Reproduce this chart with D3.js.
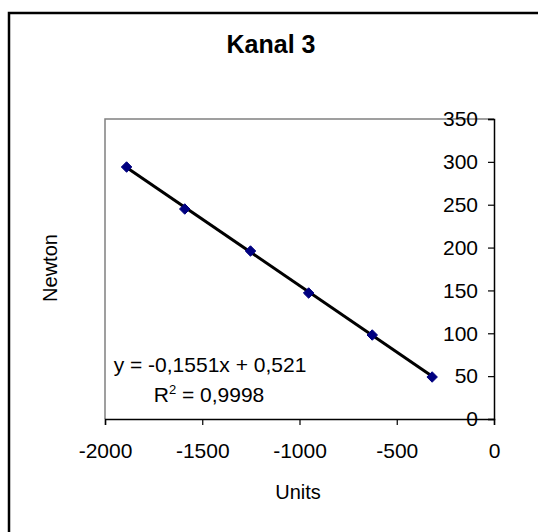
<!DOCTYPE html>
<html>
<head>
<meta charset="utf-8">
<script src="https://cdn.jsdelivr.net/npm/d3@7"></script>
<style>
  body { margin: 0; background: #fff; }
  text { font-family: "Liberation Sans", Arial, sans-serif; fill: #000; }
</style>
</head>
<body>
<div id="chart"></div>
<script>
// measured points: units read from the sensor vs. applied load
var units = [-1889, -1590, -1252, -953, -626, -318];
var newton = [294, 245, 196, 147, 98, 49];
var xTicks = [-2000, -1500, -1000, -500, 0];
var yTicks = [0, 50, 100, 150, 200, 250, 300, 350];
// linear trendline as reported
var slope = -0.1551;
var intercept = 0.521;

var width = 538, height = 532;
var plot = { left: 105, top: 119, right: 494, bottom: 419 };

var svg = d3.select("#chart")
    .append("svg")
    .attr("width", width)
    .attr("height", height);

// chart frame
svg.append("rect")
    .attr("x", 9).attr("y", 13)
    .attr("width", 540).attr("height", 540)
    .attr("fill", "none")
    .attr("stroke", "#000")
    .attr("stroke-width", 2.5);

svg.append("text")
    .attr("x", 271).attr("y", 53)
    .attr("text-anchor", "middle")
    .style("font-size", "25px")
    .style("font-weight", "bold")
    .text("Kanal 3");

var x = d3.scaleLinear()
    .domain([-2000, 0])
    .range([plot.left, plot.right]);

var y = d3.scaleLinear()
    .domain([0, 350])
    .range([plot.bottom, plot.top]);

// plot area border (gray)
svg.append("path")
    .attr("d", `M${plot.left},${plot.bottom}V${plot.top}H${plot.right}`)
    .attr("fill", "none")
    .attr("stroke", "#808080")
    .attr("stroke-width", 1.5);

// X axis
var xAxis = svg.append("g")
    .attr("transform", `translate(0, ${y(0)})`)
    .call(d3.axisBottom(x).tickValues(xTicks).tickSize(6).tickPadding(18).tickFormat(d3.format("d")));

// Y axis sits at x = 0
var yAxis = svg.append("g")
    .attr("transform", `translate(${x(0)}, 0)`)
    .call(d3.axisLeft(y).tickValues(yTicks).tickSize(6).tickPadding(10));

[xAxis, yAxis].forEach(function (g) {
    g.select(".domain").attr("stroke", "#000").attr("stroke-width", 1.5);
    g.selectAll(".tick line").attr("stroke", "#000").attr("stroke-width", 1.2);
    g.selectAll(".tick text")
        .style("font-size", "21px")
        .style("font-family", "'Liberation Sans', Arial, sans-serif")
        .attr("fill", "#000");
});
xAxis.selectAll(".tick text").text(function (d) { return d === 0 ? "0" : String(d); });

// axis titles
svg.append("text")
    .attr("x", 298).attr("y", 499)
    .attr("text-anchor", "middle")
    .style("font-size", "20px")
    .text("Units");

svg.append("text")
    .attr("transform", "translate(57, 268) rotate(-90)")
    .attr("text-anchor", "middle")
    .style("font-size", "20px")
    .text("Newton");

// trendline over the data range
var xExt = d3.extent(units);
svg.append("line")
    .attr("x1", x(xExt[0])).attr("y1", y(slope * xExt[0] + intercept))
    .attr("x2", x(xExt[1])).attr("y2", y(slope * xExt[1] + intercept))
    .attr("stroke", "#000")
    .attr("stroke-width", 3);

// diamond markers
var diamond = d3.symbol().type(d3.symbolDiamond2).size(70);
svg.append("g")
    .selectAll("path")
    .data(units.map(function (u, i) { return [u, newton[i]]; }))
    .enter()
    .append("path")
    .attr("d", diamond)
    .attr("transform", (d) => `translate(${x(d[0])}, ${y(d[1])})`)
    .attr("fill", "#000080")
    .attr("stroke", "#000080")
    .attr("stroke-width", 1);

// trendline equation label
var eq = svg.append("text")
    .attr("text-anchor", "middle")
    .style("font-size", "21px");
eq.append("tspan").attr("x", 210).attr("y", 372).text("y = -0,1551x + 0,521");
var r2 = eq.append("tspan").attr("x", 209).attr("y", 402);
r2.append("tspan").text("R");
r2.append("tspan").attr("dy", -8).style("font-size", "13px").text("2");
r2.append("tspan").attr("dy", 8).text(" = 0,9998");
</script>
</body>
</html>
